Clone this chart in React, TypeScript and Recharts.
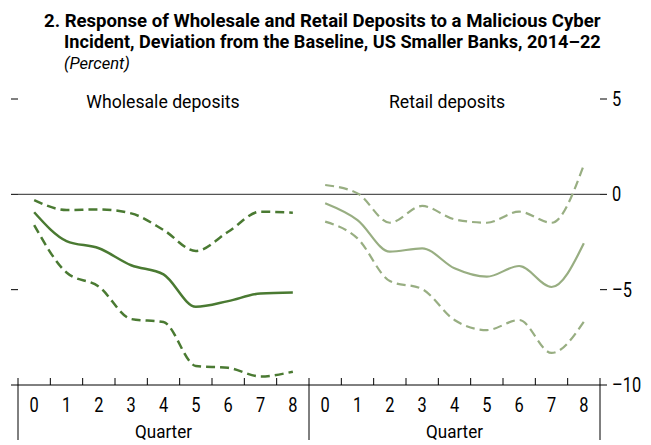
import React, { useLayoutEffect, useRef, useState } from 'react';
import { LineChart, Line, XAxis, YAxis, ReferenceLine } from 'recharts';

const quarters = ['0', '1', '2', '3', '4', '5', '6', '7', '8'];
const wholesaleMid = [-0.94, -2.45, -2.83, -3.72, -4.2, -5.9, -5.6, -5.2, -5.15];
const wholesaleUpper = [-0.3, -0.82, -0.79, -1.0, -1.87, -2.97, -1.96, -0.91, -0.96];
const wholesaleLower = [-1.61, -4.1, -4.84, -6.54, -6.7, -9.0, -9.1, -9.55, -9.3];
const retailMid = [-0.47, -1.35, -3.01, -2.83, -3.88, -4.32, -3.76, -4.86, -2.57];
const retailUpper = [0.49, 0.05, -1.49, -0.61, -1.31, -1.49, -0.91, -1.49, 1.54];
const retailLower = [-1.43, -2.31, -4.55, -4.97, -6.59, -7.12, -6.59, -8.32, -6.68];
const yTicks = [5, 0, -5, -10];
const panelTitles = ['Wholesale deposits', 'Retail deposits'];
const axisTitle = 'Quarter';
const titleLines = [
  '2. Response of Wholesale and Retail Deposits to a Malicious Cyber',
  'Incident, Deviation from the Baseline, US Smaller Banks, 2014\u201322',
];
const unitLabel = '(Percent)';

const n = quarters.length;
const data = [
  ...quarters.map((q, i) => ({ x: i, wMid: wholesaleMid[i], wUp: wholesaleUpper[i], wLo: wholesaleLower[i] })),
  ...quarters.map((q, i) => ({ x: n + i, rMid: retailMid[i], rUp: retailUpper[i], rLo: retailLower[i] })),
];
const xTicks: number[] = [];
for (let i = 0; i <= 2 * n * 2; i++) xTicks.push(-0.5 + i * 0.5);

const FONT = 'Roboto, "Liberation Sans", sans-serif';
const DARK = '#4A7A32';
const LIGHT = '#98AE82';
const NUM_SCALE = 0.82;

function FitText(props: any) {
  const { x, y, width, scale, anchor = 'start', children, ...rest } = props;
  const ref = useRef<SVGTextElement>(null);
  const [s, setS] = useState<number>(scale ?? 1);
  useLayoutEffect(() => {
    if (width && ref.current) {
      const w = ref.current.getComputedTextLength();
      if (w > 0) setS(width / w);
    }
  }, [width]);
  return (
    <g transform={`translate(${x},${y}) scale(${s},1)`}>
      <text ref={ref} x={0} y={0} textAnchor={anchor} fontFamily={FONT} fill="#000" {...rest}>
        {children}
      </text>
    </g>
  );
}

const XTick = (props: any) => {
  const { x, y, payload } = props;
  const v = payload.value as number;
  if (Number.isInteger(v)) {
    const idx = v % n;
    return (
      <g>
        <FitText x={x} y={y + 27} anchor="middle" fontSize={20} scale={NUM_SCALE}>
          {quarters[idx]}
        </FitText>
        {idx === 4 && (
          <FitText x={x} y={y + 53} anchor="middle" fontSize={19} width={57}>
            {axisTitle}
          </FitText>
        )}
      </g>
    );
  }
  const boundary = Math.abs((v + 0.5) % n) < 1e-9;
  return (
    <g>
      <line x1={x} x2={x} y1={y} y2={y - 7} stroke="#000" strokeWidth={1} />
      {boundary && <line x1={x} x2={x} y1={y} y2={y + 55} stroke="#000" strokeWidth={1} />}
    </g>
  );
};

const YTickRight = (props: any) => {
  const { x, y, payload } = props;
  const v = payload.value as number;
  const label = v < 0 ? '\u2013' + Math.abs(v) : String(v);
  return (
    <FitText x={x} y={y + 7} anchor="start" fontSize={20} scale={NUM_SCALE}>
      {label}
    </FitText>
  );
};

const EmptyTick = () => <g />;

export default function App() {
  return (
    <div style={{ position: 'absolute', left: 0, top: 0, width: 651, height: 445, background: '#fff' }}>
      <svg width={651} height={95} style={{ position: 'absolute', left: 0, top: 0 }}>
        <FitText x={44} y={27} width={557} fontWeight="bold" fontSize={18}>{titleLines[0]}</FitText>
        <FitText x={64} y={48} width={537} fontWeight="bold" fontSize={18}>{titleLines[1]}</FitText>
        <FitText x={64} y={69} width={66} fontStyle="italic" fontSize={17}>{unitLabel}</FitText>
      </svg>
      <LineChart width={651} height={445} data={data} margin={{ top: 99, right: 0, bottom: 0, left: 0 }}>
        <XAxis
          dataKey="x"
          type="number"
          domain={[-0.5, 2 * n - 0.5]}
          ticks={xTicks}
          interval={0}
          height={60}
          tickSize={0}
          tickMargin={0}
          tickLine={false}
          axisLine={{ stroke: '#000', strokeWidth: 1 }}
          tick={<XTick />}
        />
        <YAxis
          yAxisId="left"
          orientation="left"
          width={18}
          domain={[-10, 5]}
          ticks={yTicks}
          interval={0}
          tickSize={7}
          tickMargin={0}
          axisLine={false}
          tickLine={{ stroke: '#000' }}
          tick={<EmptyTick />}
        />
        <YAxis
          yAxisId="right"
          orientation="right"
          width={51}
          domain={[-10, 5]}
          ticks={yTicks}
          interval={0}
          tickSize={7}
          tickMargin={5}
          axisLine={false}
          tickLine={{ stroke: '#000' }}
          tick={<YTickRight />}
        />
        <ReferenceLine yAxisId="left" y={0} stroke="#555" strokeWidth={1.2} />
        <Line yAxisId="left" type="monotone" dataKey="wUp" stroke={DARK} strokeWidth={2.5} strokeDasharray="9 5" dot={false} isAnimationActive={false} />
        <Line yAxisId="left" type="monotone" dataKey="wLo" stroke={DARK} strokeWidth={2.5} strokeDasharray="9 5" dot={false} isAnimationActive={false} />
        <Line yAxisId="left" type="monotone" dataKey="wMid" stroke={DARK} strokeWidth={2.5} dot={false} isAnimationActive={false} />
        <Line yAxisId="right" type="monotone" dataKey="rUp" stroke={LIGHT} strokeWidth={2.2} strokeDasharray="9 5" dot={false} isAnimationActive={false} />
        <Line yAxisId="right" type="monotone" dataKey="rLo" stroke={LIGHT} strokeWidth={2.2} strokeDasharray="9 5" dot={false} isAnimationActive={false} />
        <Line yAxisId="right" type="monotone" dataKey="rMid" stroke={LIGHT} strokeWidth={2.2} dot={false} isAnimationActive={false} />
      </LineChart>
      <svg width={651} height={30} style={{ position: 'absolute', left: 0, top: 86 }}>
        <FitText x={163} y={22} anchor="middle" scale={0.93} fontSize={19}>{panelTitles[0]}</FitText>
        <FitText x={447} y={22} anchor="middle" scale={0.93} fontSize={19}>{panelTitles[1]}</FitText>
      </svg>
    </div>
  );
}
